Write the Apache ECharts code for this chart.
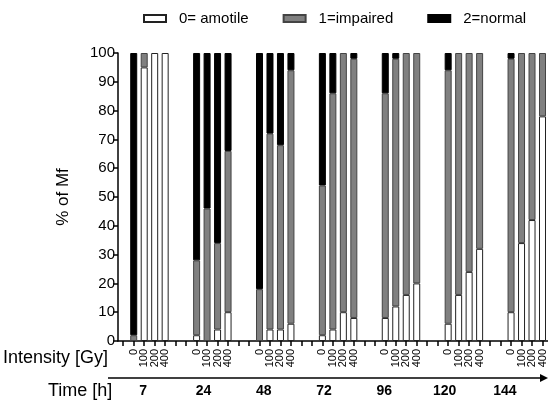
<!DOCTYPE html>
<html>
<head>
<meta charset="utf-8">
<script src="https://cdn.jsdelivr.net/npm/echarts@6/dist/echarts.min.js"></script>
<style>
  html, body { margin: 0; padding: 0; background: #fff; }
  #chart { width: 548px; height: 403px; }
</style>
</head>
<body>
<div id="chart"></div>
<script>
const times = ['7', '24', '48', '72', '96', '120', '144'];
const doses = ['0', '100', '200', '400'];

// % of Mf per bar, 4 doses for each time point
const amotile  = [0, 95, 100, 100,  2, 0, 4, 10,   0, 4, 4, 6,    2, 4, 10, 8,   8, 12, 16, 20,  6, 16, 24, 32,  10, 34, 42, 78];
const impaired = [2, 5, 0, 0,       26, 46, 30, 56, 18, 68, 64, 88, 52, 82, 90, 90, 78, 86, 84, 80, 88, 84, 76, 68, 88, 66, 58, 22];
const normal   = [98, 0, 0, 0,      72, 54, 66, 34, 82, 28, 32, 6,  46, 14, 0, 2,   14, 2, 0, 0,   6, 0, 0, 0,     2, 0, 0, 0];

const font = "Arial, 'Liberation Sans', sans-serif";

// slots on the axis: one empty slot first, two empty slots between time groups
const slotLabels = [''];
const slotIndex = [];
times.forEach((t, i) => {
  doses.forEach((d) => {
    slotIndex.push(slotLabels.length);
    slotLabels.push(d);
  });
  if (i < times.length - 1) {
    slotLabels.push('');
    slotLabels.push('');
  }
});
// empty slots and zero segments get no bar (avoids a stray border line)
const toSlots = (arr) => {
  const out = slotLabels.map(() => '-');
  arr.forEach((v, k) => { out[slotIndex[k]] = v === 0 ? '-' : v; });
  return out;
};

const chart = echarts.init(document.getElementById('chart'));

const barSeries = (name, data, color, border) => ({
  name: name,
  type: 'bar',
  stack: 'mf',
  barWidth: 7,
  xAxisIndex: 0,
  yAxisIndex: 0,
  itemStyle: { color: color, borderColor: border, borderWidth: 1 },
  emphasis: { disabled: true },
  data: toSlots(data)
});

chart.setOption({
  animation: false,
  textStyle: { fontFamily: font },
  legend: {
    left: 143,
    top: 11,
    padding: 0,
    icon: 'rect',
    itemWidth: 22,
    itemHeight: 7,
    itemGap: 34,
    textStyle: { fontSize: 15, color: '#000', padding: [0, 0, 0, 8], fontFamily: font },
    data: ['0= amotile', '1=impaired', '2=normal']
  },
  grid: [
    { left: 118, right: 0, top: 53, bottom: 62 },
    { left: 113, right: 13, top: 377, height: 1 }
  ],
  xAxis: [
    {
      gridIndex: 0,
      type: 'category',
      data: slotLabels.map((s, i) => 's' + i),
      axisLine: { show: true, lineStyle: { color: '#000', width: 1.5 } },
      axisTick: { show: true, alignWithLabel: true, interval: 0, length: 5, lineStyle: { color: '#000', width: 1.5 } },
      axisLabel: {
        show: true,
        interval: 0,
        rotate: 90,
        margin: 8,
        fontSize: 11,
        color: '#000',
        fontFamily: font,
        formatter: (v, idx) => slotLabels[idx]
      }
    },
    {
      gridIndex: 1,
      type: 'category',
      data: times,
      axisLine: { show: false },
      axisTick: { show: false },
      axisLabel: { margin: 6, fontSize: 14, fontWeight: 'bold', color: '#000', fontFamily: font }
    }
  ],
  yAxis: [
    {
      gridIndex: 0,
      type: 'value',
      min: 0,
      max: 100,
      interval: 10,
      name: '% of Mf',
      nameLocation: 'middle',
      nameGap: 46,
      nameTextStyle: { fontSize: 17, color: '#000', fontFamily: font },
      splitLine: { show: false },
      axisLine: { show: true, lineStyle: { color: '#000', width: 1.5 } },
      axisTick: { show: true, length: 5, lineStyle: { color: '#000', width: 1.5 } },
      axisLabel: { fontSize: 15, color: '#000', margin: 3, fontFamily: font }
    },
    { gridIndex: 1, type: 'value', show: false }
  ],
  graphic: [
    {
      type: 'text', left: 3, top: 349,
      style: { text: 'Intensity [Gy]', fontSize: 18, fill: '#000', fontFamily: font }
    },
    {
      type: 'text', left: 48, top: 382,
      style: { text: 'Time [h]', fontSize: 18, fill: '#000', fontFamily: font }
    },
    {
      type: 'line',
      shape: { x1: 108, y1: 378, x2: 542, y2: 378 },
      style: { stroke: '#000', lineWidth: 1.5 }
    },
    {
      type: 'polygon',
      shape: { points: [[540, 374], [548, 378], [540, 382]] },
      style: { fill: '#000' }
    }
  ],
  series: [
    barSeries('0= amotile', amotile, '#ffffff', '#222'),
    barSeries('1=impaired', impaired, '#808080', '#444'),
    barSeries('2=normal', normal, '#000000', '#000')
  ]
});
</script>
</body>
</html>
